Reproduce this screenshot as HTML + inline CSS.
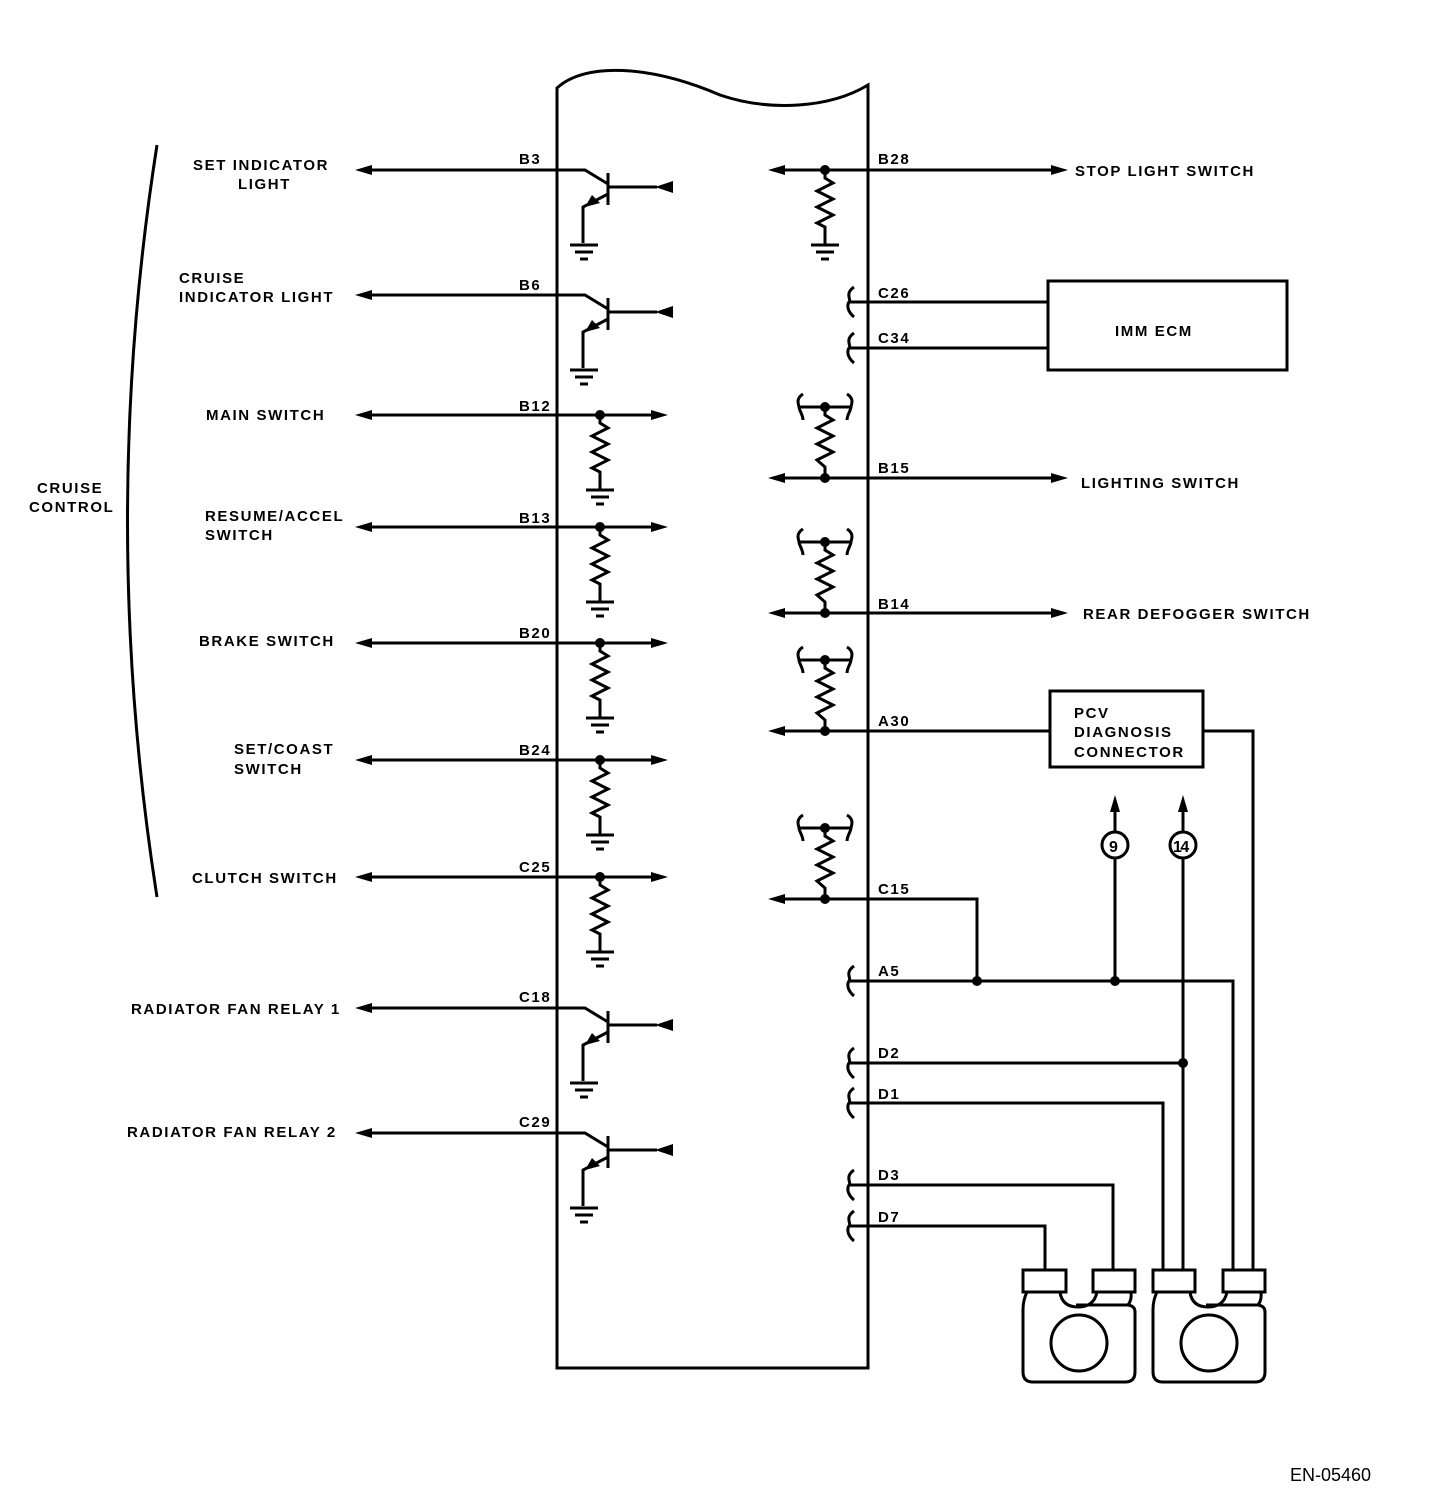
<!DOCTYPE html>
<html><head><meta charset="utf-8"><style>
html,body{margin:0;padding:0;background:#fff}
svg{display:block}
text{font-family:"Liberation Sans",Arial,sans-serif;font-weight:bold;font-size:15px;letter-spacing:1.6px;fill:#000}
</style></head><body>
<svg width="1440" height="1504" viewBox="0 0 1440 1504" xmlns="http://www.w3.org/2000/svg">
<defs>
<g id="tr" fill="none" stroke="#000" stroke-width="3">
<path d="M0,0 H28 L51,14"/>
<path d="M51,3 V35"/>
<path d="M51,17 H100"/>
<path d="M51,24 L26,37 V73"/>
<path d="M13,75 H41 M18,82 H36 M23,89 H31"/>
<polygon points="98,17 116,11 116,23" fill="#000" stroke="none"/>
<polygon points="28,37 35,25 43,33" fill="#000" stroke="none"/>
</g>
<g id="rs" fill="none" stroke="#000" stroke-width="3">
<circle cx="0" cy="0" r="5" fill="#000" stroke="none"/>
<path d="M0,0 V8 L8,13 L-8,21 L8,29 L-8,37 L8,45 L-8,53 L0,57 V75"/>
<path d="M-14,75 H14 M-9,82 H9 M-4,89 H4"/>
</g>
<g id="rq" fill="none" stroke="#000" stroke-width="3">
<circle cx="0" cy="0" r="5" fill="#000" stroke="none"/>
<circle cx="0" cy="71" r="5" fill="#000" stroke="none"/>
<path d="M-25,0 H25"/>
<path d="M-22,-13 C-30,-8 -26,-2 -26,0 C-26,3 -22,8 -22,13"/>
<path d="M22,-13 C30,-8 26,-2 26,0 C26,3 22,8 22,13"/>
<path d="M0,0 V8 L8,13 L-8,21 L8,29 L-8,37 L8,45 L-8,53 L0,60 V71"/>
</g>
<path id="sq" d="M4,-15 C-6,-8 2,-2 -1,0 C-3,3 -3,9 4,15" fill="none" stroke="#000" stroke-width="3"/>
<polygon id="al" points="0,0 17,-5 17,5" fill="#000"/>
<polygon id="ar" points="0,0 -17,-5 -17,5" fill="#000"/>
<polygon id="au" points="0,0 -5,17 5,17" fill="#000"/>
</defs>

<g fill="none" stroke="#000" stroke-width="3">
<path d="M557,1368 V88 C585,62 650,65 720,95 C770,112 830,108 868,85 V1368 Z"/>
<path d="M157,145 Q98,521 157,897"/>
<path d="M360,170 H557 M360,295 H557 M360,1008 H557 M360,1133 H557"/>
<path d="M360,415 H660 M360,527 H660 M360,643 H660 M360,760 H660 M360,877 H660"/>
<path d="M775,170 H1058"/>
<path d="M850,302 H1048 M850,348 H1048"/>
<rect x="1048" y="281" width="239" height="89"/>
<path d="M775,478 H1058 M775,613 H1058"/>
<path d="M775,731 H1050"/>
<rect x="1050" y="691" width="153" height="76"/>
<path d="M1203,731 H1253 V1270"/>
<path d="M775,899 H977 V981"/>
<path d="M850,981 H1233 V1270"/>
<path d="M1115,981 V858 M1115,832 V805"/>
<path d="M1183,1270 V858 M1183,832 V805"/>
<circle cx="1115" cy="845" r="13"/>
<circle cx="1183" cy="845" r="13"/>
<path d="M850,1063 H1183"/>
<path d="M850,1103 H1163 V1270"/>
<path d="M850,1185 H1113 V1270"/>
<path d="M850,1226 H1045 V1270"/>
<rect x="1023" y="1270" width="43" height="22"/>
<rect x="1093" y="1270" width="42" height="22"/>
<rect x="1153" y="1270" width="42" height="22"/>
<rect x="1223" y="1270" width="42" height="22"/>
<path d="M1027,1292 Q1023,1300 1023,1310 V1372 Q1023,1382 1033,1382 H1125 Q1135,1382 1135,1372 V1312 Q1135,1306 1128,1305 Q1132,1300 1131,1292 M1060,1292 Q1062,1307 1078,1307 Q1094,1307 1097,1292 M1128,1305 H1076"/>
<path d="M1157,1292 Q1153,1300 1153,1310 V1372 Q1153,1382 1163,1382 H1255 Q1265,1382 1265,1372 V1312 Q1265,1306 1258,1305 Q1262,1300 1261,1292 M1190,1292 Q1192,1307 1208,1307 Q1224,1307 1227,1292 M1258,1305 H1206"/>
<circle cx="1079" cy="1343" r="28"/>
<circle cx="1209" cy="1343" r="28"/>
</g>

<use href="#tr" x="557" y="170"/>
<use href="#tr" x="557" y="295"/>
<use href="#tr" x="557" y="1008"/>
<use href="#tr" x="557" y="1133"/>
<use href="#rs" x="600" y="415"/>
<use href="#rs" x="600" y="527"/>
<use href="#rs" x="600" y="643"/>
<use href="#rs" x="600" y="760"/>
<use href="#rs" x="600" y="877"/>
<use href="#rs" x="825" y="170"/>
<use href="#rq" x="825" y="407"/>
<use href="#rq" x="825" y="542"/>
<use href="#rq" x="825" y="660"/>
<use href="#rq" x="825" y="828"/>
<use href="#sq" x="850" y="302"/>
<use href="#sq" x="850" y="348"/>
<use href="#sq" x="850" y="981"/>
<use href="#sq" x="850" y="1063"/>
<use href="#sq" x="850" y="1103"/>
<use href="#sq" x="850" y="1185"/>
<use href="#sq" x="850" y="1226"/>
<circle cx="977" cy="981" r="5"/>
<circle cx="1115" cy="981" r="5"/>
<circle cx="1183" cy="1063" r="5"/>
<use href="#al" x="355" y="170"/><use href="#al" x="355" y="295"/>
<use href="#al" x="355" y="415"/><use href="#al" x="355" y="527"/>
<use href="#al" x="355" y="643"/><use href="#al" x="355" y="760"/>
<use href="#al" x="355" y="877"/><use href="#al" x="355" y="1008"/>
<use href="#al" x="355" y="1133"/>
<use href="#ar" x="668" y="415"/><use href="#ar" x="668" y="527"/>
<use href="#ar" x="668" y="643"/><use href="#ar" x="668" y="760"/>
<use href="#ar" x="668" y="877"/>
<use href="#al" x="768" y="170"/><use href="#al" x="768" y="478"/>
<use href="#al" x="768" y="613"/><use href="#al" x="768" y="731"/>
<use href="#al" x="768" y="899"/>
<use href="#ar" x="1068" y="170"/><use href="#ar" x="1068" y="478"/>
<use href="#ar" x="1068" y="613"/>
<use href="#au" x="1115" y="795"/><use href="#au" x="1183" y="795"/>

<text x="193" y="170">SET INDICATOR</text>
<text x="238" y="189">LIGHT</text>
<text x="179" y="283">CRUISE</text>
<text x="179" y="302">INDICATOR  LIGHT</text>
<text x="206" y="420">MAIN SWITCH</text>
<text x="205" y="521">RESUME/ACCEL</text>
<text x="205" y="540">SWITCH</text>
<text x="199" y="646">BRAKE SWITCH</text>
<text x="234" y="754">SET/COAST</text>
<text x="234" y="774">SWITCH</text>
<text x="192" y="883">CLUTCH SWITCH</text>
<text x="131" y="1014">RADIATOR FAN RELAY 1</text>
<text x="127" y="1137">RADIATOR FAN RELAY 2</text>
<text x="37" y="493">CRUISE</text>
<text x="29" y="512">CONTROL</text>
<text x="519" y="164">B3</text>
<text x="519" y="290">B6</text>
<text x="519" y="411">B12</text>
<text x="519" y="523">B13</text>
<text x="519" y="638">B20</text>
<text x="519" y="755">B24</text>
<text x="519" y="872">C25</text>
<text x="519" y="1002">C18</text>
<text x="519" y="1127">C29</text>
<text x="878" y="164">B28</text>
<text x="878" y="298">C26</text>
<text x="878" y="343">C34</text>
<text x="878" y="473">B15</text>
<text x="878" y="609">B14</text>
<text x="878" y="726">A30</text>
<text x="878" y="894">C15</text>
<text x="878" y="976">A5</text>
<text x="878" y="1058">D2</text>
<text x="878" y="1099">D1</text>
<text x="878" y="1180">D3</text>
<text x="878" y="1222">D7</text>
<text x="1075" y="176">STOP LIGHT SWITCH</text>
<text x="1115" y="336">IMM ECM</text>
<text x="1081" y="488">LIGHTING SWITCH</text>
<text x="1083" y="619">REAR DEFOGGER SWITCH</text>
<text x="1074" y="718">PCV</text>
<text x="1074" y="737">DIAGNOSIS</text>
<text x="1074" y="757">CONNECTOR</text>
<text x="1109" y="852" style="font-size:16px;letter-spacing:0">9</text>
<text x="1173" y="852" style="font-size:16px;letter-spacing:-1.5px">14</text>
<text x="1290" y="1481" style="font-weight:normal;font-size:18px;letter-spacing:0">EN-05460</text>
</svg>
</body></html>
